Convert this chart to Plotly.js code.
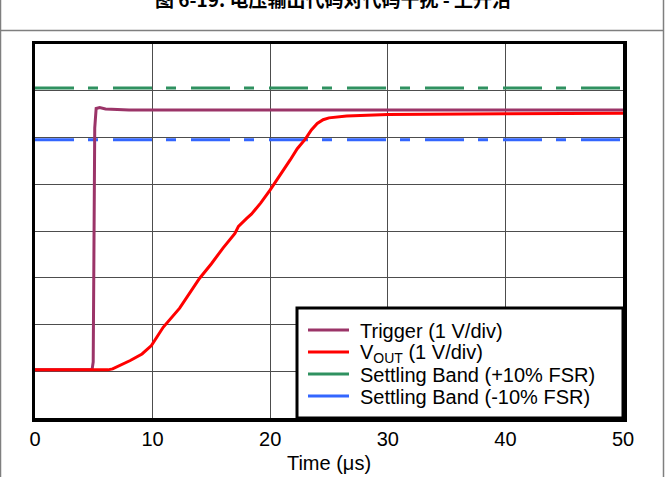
<!DOCTYPE html>
<html>
<head>
<meta charset="utf-8">
<script src="https://cdn.plot.ly/plotly-3.0.1.min.js"></script>
<style>html,body{margin:0;padding:0;background:#fff;}#chart{width:666px;height:477px;}</style>
</head>
<body>
<div id="chart"></div>
<script>
// ---- data (time in µs, value in divisions of 1 V) ----
const trigTime = [0, 4.85, 4.95, 5.0, 5.08, 5.2, 5.5, 6.0, 7.0, 8.0, 12, 20, 30, 40, 50];
const trigVal  = [1.03, 1.03, 1.2, 3.5, 6.2, 6.62, 6.64, 6.61, 6.60, 6.59, 6.59, 6.59, 6.59, 6.59, 6.59];

const voutTime = [0, 6.2, 6.6, 7.2, 8.1, 9.1, 9.9, 10.9, 12.3, 14.0, 15.0, 16.0, 17.0, 17.3, 17.6, 18.0, 18.4, 19.2, 20.0, 21.0, 21.7, 22.3, 23.0, 23.5, 24.0, 24.5, 25.0, 26.5, 30, 40, 50];
const voutVal  = [1.03, 1.03, 1.05, 1.12, 1.23, 1.37, 1.55, 1.94, 2.35, 2.99, 3.30, 3.64, 3.95, 4.10, 4.18, 4.27, 4.36, 4.60, 4.88, 5.25, 5.52, 5.76, 5.97, 6.16, 6.30, 6.38, 6.42, 6.46, 6.49, 6.51, 6.52];

const bandTime = [0, 50];
const bandHigh = [7.06, 7.06];
const bandLow  = [5.95, 5.95];

const xTicks = [0, 10, 20, 30, 40, 50];
const yGrid  = [0, 1, 2, 3, 4, 5, 6, 7, 8];

const names = ['Trigger (1 V/div)', 'V<sub>OUT</sub> (1 V/div)', 'Settling Band (+10% FSR)', 'Settling Band (-10% FSR)'];
const colors = ['#9b3468', '#ff0000', '#2f9160', '#3366ff'];
const titleText = '图 6-19. 电压输出代码对代码干扰 - 上升沿';

const FONT = 'Liberation Sans, Arial, sans-serif';
const dashPat = '39px,14px,10px,15px';

const traces = [
  {x: bandTime, y: bandHigh, mode: 'lines', name: names[2], line: {color: colors[2], width: 3, dash: dashPat}},
  {x: bandTime, y: bandLow, mode: 'lines', name: names[3], line: {color: colors[3], width: 3, dash: dashPat}},
  {x: trigTime, y: trigVal, mode: 'lines', name: names[0], line: {color: colors[0], width: 3}},
  {x: voutTime, y: voutVal, mode: 'lines', name: names[1], line: {color: colors[1], width: 3}}
];

const frameColor = '#7f7f7f';
// pixel -> paper helpers for layout decorations
const px2x = p => (p - 35) / 588;
const px2y = p => (418 - p) / 374;

const shapes = [
  {type: 'line', xref: 'paper', yref: 'paper', x0: px2x(0.5), x1: px2x(0.5), y0: px2y(0), y1: px2y(477), line: {color: frameColor, width: 1.5}},
  {type: 'line', xref: 'paper', yref: 'paper', x0: px2x(663.5), x1: px2x(663.5), y0: px2y(0), y1: px2y(477), line: {color: frameColor, width: 1.5}},
  {type: 'line', xref: 'paper', yref: 'paper', x0: px2x(0), x1: px2x(664), y0: px2y(30.5), y1: px2y(30.5), line: {color: frameColor, width: 1.5}},
  // legend box
  {type: 'rect', xref: 'paper', yref: 'paper', layer: 'above', x0: px2x(297), x1: px2x(623), y0: px2y(308), y1: px2y(418),
   fillcolor: '#fff', line: {color: '#000', width: 3}}
];
const annotations = [];
const legendRows = [330, 352, 374, 396];
names.forEach((n, i) => {
  shapes.push({type: 'line', xref: 'paper', yref: 'paper', layer: 'above', x0: px2x(308), x1: px2x(349),
               y0: px2y(legendRows[i]), y1: px2y(legendRows[i]), line: {color: colors[i], width: 3}});
  annotations.push({xref: 'paper', yref: 'paper', x: px2x(359), y: px2y(legendRows[i] + 1), xanchor: 'left', yanchor: 'middle',
                    text: n, showarrow: false, borderpad: 0, font: {family: FONT, size: 20, color: '#000'}});
});

const layout = {
  width: 666, height: 477,
  margin: {l: 35, r: 43, t: 44, b: 59},
  paper_bgcolor: '#fff', plot_bgcolor: '#fff',
  font: {family: FONT, size: 20, color: '#000'},
  title: {text: titleText, font: {family: 'Noto Sans CJK SC, Liberation Sans, sans-serif', size: 19, color: '#000', weight: 'bold'},
          x: 0.5, xref: 'container', xanchor: 'center', y: 1, yref: 'container', yanchor: 'middle'},
  xaxis: {range: [0, 50], tickvals: xTicks, ticks: '', showgrid: true, gridcolor: '#4d4d4d', gridwidth: 1,
          zeroline: false, showline: true, mirror: true, linecolor: '#000', linewidth: 3.5,
          tickfont: {size: 20, family: FONT, color: '#000'},
          title: {text: 'Time (μs)', font: {size: 20, family: FONT, color: '#000'}, standoff: 8}},
  yaxis: {range: [0, 8], tickvals: yGrid, showticklabels: false, ticks: '', showgrid: true, gridcolor: '#4d4d4d', gridwidth: 1,
          zeroline: false, showline: true, mirror: true, linecolor: '#000', linewidth: 3.5},
  showlegend: false,
  shapes: shapes,
  annotations: annotations
};

Plotly.newPlot('chart', traces, layout, {displayModeBar: false, staticPlot: true});
</script>
</body>
</html>
